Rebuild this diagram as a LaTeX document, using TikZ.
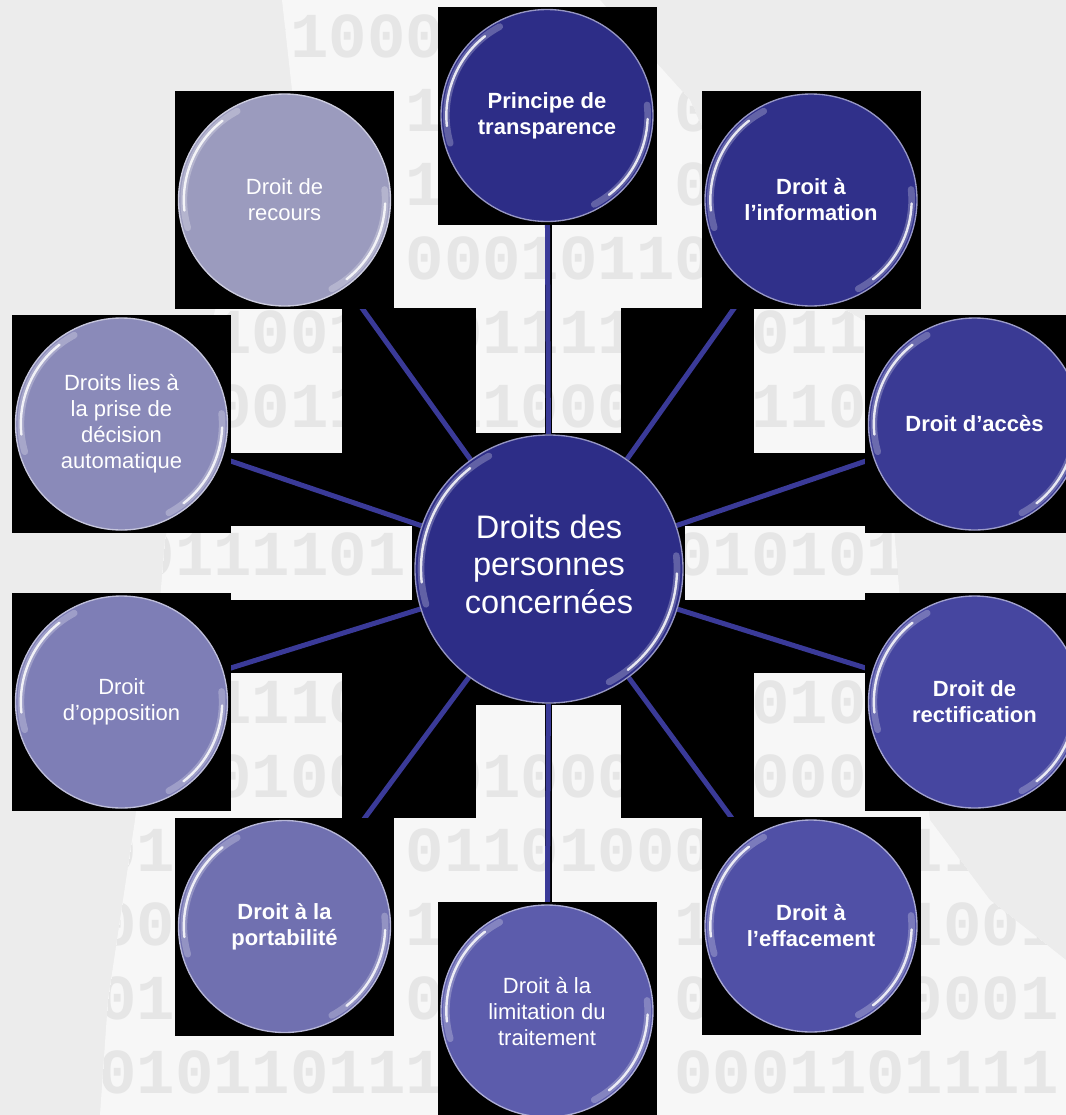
\documentclass[tikz,border=0pt]{standalone}
\usepackage{fontspec}
\setmainfont{Liberation Sans}
\newfontfamily\binfont{Liberation Mono}
\usetikzlibrary{calc}
\pgfdeclarelayer{bgA}\pgfdeclarelayer{bgB}\pgfdeclarelayer{bgC}
\pgfsetlayers{bgA,bgB,bgC,main}
\definecolor{pagegray}{HTML}{ECECEC}
\definecolor{silwhite}{HTML}{F7F7F7}
\definecolor{digitgray}{HTML}{E6E6E6}
\definecolor{linkblue}{HTML}{3A3A98}
\definecolor{cTr}{HTML}{2D2D87}
\definecolor{cInf}{HTML}{30308A}
\definecolor{cAcc}{HTML}{3A3A94}
\definecolor{cRect}{HTML}{4646A0}
\definecolor{cEff}{HTML}{5050A6}
\definecolor{cLim}{HTML}{5C5CAC}
\definecolor{cPor}{HTML}{7070B0}
\definecolor{cOpp}{HTML}{7E7EB6}
\definecolor{cDec}{HTML}{8A8AB9}
\definecolor{cRecours}{HTML}{9B9BBE}
\definecolor{cCtr}{HTML}{2D2D87}
\newcommand\mygloss[2]{%
  \draw[white, opacity=0.25, line width=5pt, line cap=round] ($(#1.center)+(118:#2)$) arc[start angle=118, end angle=196, radius=#2];
  \draw[white, opacity=0.85, line width=1.8pt, line cap=round] ($(#1.center)+(128:#2)$) arc[start angle=128, end angle=186, radius=#2];
  \draw[white, opacity=0.25, line width=5pt, line cap=round] ($(#1.center)+(-62:#2)$) arc[start angle=-62, end angle=6, radius=#2];
  \draw[white, opacity=0.85, line width=1.8pt, line cap=round] ($(#1.center)+(-52:#2)$) arc[start angle=-52, end angle=-2, radius=#2];
}
\begin{document}
\begin{tikzpicture}[x=0.75pt,y=-0.75pt,
  bubble/.style={circle, minimum size=159pt, inner sep=0pt, text=white, align=center,
    font=\fontsize{16.5}{19.5}\selectfont, fill=#1, draw=#1!50!white, line width=1pt},
  boldtxt/.style={font=\fontsize{16.5}{19.5}\selectfont\bfseries},
  centerbubble/.style={circle, minimum size=201pt, inner sep=0pt, text=white, align=center,
    font=\fontsize{24.4}{28.1}\selectfont, fill=cCtr, draw=cCtr!50!white, line width=1pt},
  blackbox/.style={fill=black},
  link/.style={draw=linkblue, line width=3.75pt},
  digits/.style={inner sep=0pt, text=digitgray,
    font=\binfont\bfseries\fontsize{48}{48}\selectfont}]
\useasboundingbox (0,0) rectangle (1066,1115);

% ---------- main nodes ----------
\node[centerbubble] (ctr) at (549,569) {};
\node[text=white, align=center, font=\fontsize{24.4}{28.1}\selectfont, inner sep=0pt] (ctrtext) at (549,564) {Droits des\\personnes\\concernées};
\node[bubble=cTr, boldtxt] (tr) at (547,115.5) {Principe de\\transparence};
\node[bubble=cInf, boldtxt] (inf) at (811,200) {Droit à\\l’information};
\node[bubble=cAcc, boldtxt] (acc) at (974.5,424) {Droit d’accès};
\node[bubble=cRect, boldtxt] (rect) at (974.5,702) {Droit de\\rectification};
\node[bubble=cEff, boldtxt] (eff) at (811,926) {Droit à\\l’effacement};
\node[bubble=cLim] (lim) at (547,1011) {Droit à la\\limitation du\\traitement};
\node[bubble=cPor, boldtxt] (por) at (284.5,926.5) {Droit à la\\portabilité};
\node[bubble=cOpp] (opp) at (121.5,702) {Droit\\d’opposition};
\node[bubble=cDec] (dec) at (121.5,424) {Droits lies à\\la prise de\\décision\\automatique};
\node[bubble=cRecours] (rec) at (284.5,200) {Droit de\\recours};

\foreach \n in {tr,inf,acc,rect,eff,lim,por,opp,dec,rec}{\mygloss{\n}{75.5pt}}
\mygloss{ctr}{96pt}

% ---------- background ----------
\begin{pgfonlayer}{bgA}
  \fill[pagegray] (0,0) rectangle (1066,1115);
  \begin{scope}
    \clip (282,0) -- (600,0) -- (690,100) -- (760,260) -- (880,330) -- (895,540) -- (900,600)
      -- (930,820) -- (990,900) -- (1066,960) -- (1066,1115) -- (100,1115) -- (108,1000)
      -- (135,820) -- (160,600) -- (165,540) -- (215,310) -- (292,90) -- cycle;
    \fill[silwhite] (0,0) rectangle (1066,1115);
    \foreach \yy [count=\r] in {36.5,110.5,184.5,258.5,332.5,406.5,480.5,554.5,628.5,702.5,776.5,850.5,924.5,998.5,1072.5}{
      \foreach \k in {0,...,25}{
        \pgfmathsetmacro\xx{79.2+38.4*\k}
        \pgfmathtruncatemacro\hid{(abs(\xx-547)<110)*(abs(\yy-115.5)<110)
          +(abs(\xx-811)<110)*(abs(\yy-200)<110)
          +(abs(\xx-974.5)<110)*(abs(\yy-424)<110)
          +(abs(\xx-974.5)<110)*(abs(\yy-702)<110)
          +(abs(\xx-811)<110)*(abs(\yy-926)<110)
          +(abs(\xx-547)<110)*(abs(\yy-1011)<110)
          +(abs(\xx-284.5)<110)*(abs(\yy-926.5)<110)
          +(abs(\xx-121.5)<110)*(abs(\yy-702)<110)
          +(abs(\xx-121.5)<110)*(abs(\yy-424)<110)
          +(abs(\xx-284.5)<110)*(abs(\yy-200)<110)
          +(abs(\xx-548.5)<137)*(abs(\yy-569)<136)
          +(\xx<120)*(\yy<820)+(\xx<250)*(\yy<300)+(\xx>900)*(\yy<300)}
        \pgfmathtruncatemacro\dd{mod(abs(int(1000*sin(\k*77+\r*151+13))),2)}
        \ifnum\hid=0 \node[digits] (d-\r-\k) at (\xx,\yy) {\dd};\fi
      }
    }
  \end{scope}
  % black bounding boxes of the connectors and of the centre shape
  \fill[blackbox] (412,433) rectangle (685,705);
  \fill[blackbox] (342,308) rectangle (476,460);
  \fill[blackbox] (621,308) rectangle (754,460);
  \fill[blackbox] (231,453) rectangle (413,526);
  \fill[blackbox] (684,453) rectangle (866,526);
  \fill[blackbox] (231,600) rectangle (413,673);
  \fill[blackbox] (684,600) rectangle (866,673);
  \fill[blackbox] (342,668) rectangle (476,818);
  \fill[blackbox] (621,668) rectangle (754,818);
  \fill[blackbox] (544.5,224) rectangle (551.5,434);
  \fill[blackbox] (544.5,704) rectangle (551.5,903);
\end{pgfonlayer}

% ---------- connectors ----------
\begin{pgfonlayer}{bgB}
  \foreach \n in {tr,inf,acc,rect,eff,lim,por,opp,dec,rec}{\draw[link] (ctr) -- (\n);}
\end{pgfonlayer}

% ---------- black squares behind outer circles ----------
\begin{pgfonlayer}{bgC}
  \foreach \n in {tr,inf,acc,rect,eff,lim,por,opp,dec,rec}{
    \fill[blackbox] ($(\n.center)+(-109.5,-109)$) rectangle ($(\n.center)+(109.5,109)$);}
\end{pgfonlayer}
\end{tikzpicture}
\end{document}
